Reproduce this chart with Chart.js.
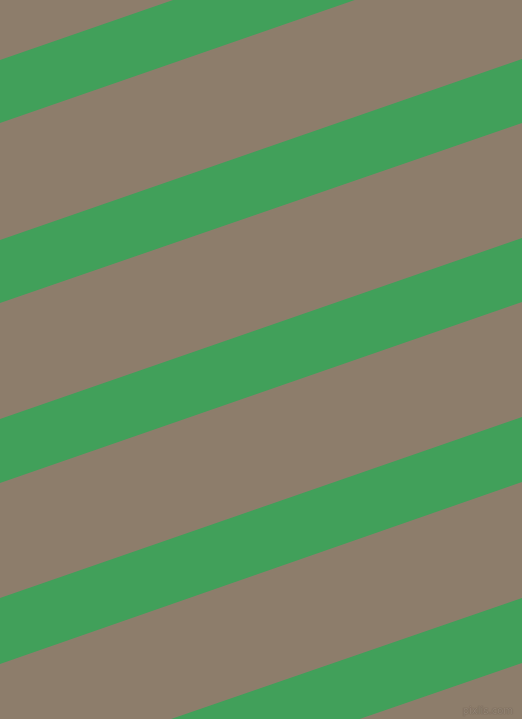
<!DOCTYPE html>
<html>
<head>
<meta charset="utf-8">
<script src="https://cdn.jsdelivr.net/npm/chart.js@4.4.1/dist/chart.umd.min.js"></script>
<style>
	html, body { margin: 0; padding: 0; background: #8d7d6b; overflow: hidden; }
	#wrap { position: relative; width: 522px; height: 719px; }
	#myChart { display: block; background: #8d7d6b; }
	#mark {
		position: absolute; right: 9px; bottom: 3px;
		font: 10px "DejaVu Sans", sans-serif;
		color: #958676;
		text-shadow: 0 0 1px #6f6152, 0 0 1px #6f6152;
	}
</style>
</head>
<body>
<div id="wrap">
	<canvas id="myChart" width="522" height="719"></canvas>
	<span id="mark">pixlis.com</span>
</div>
<script>
// x positions of the two ends of every stripe edge
var xEnds = [0, 522];

// stripe edges, y read at the left end and at the right end
var stripeTopLeft = [60, 240, 419, 598, 778];
var stripeTopRight = [-121, 59, 238, 417, 598];
var stripeBottomLeft = [123, 303, 483, 664, 843];
var stripeBottomRight = [-58, 123, 302, 482, 663];

var stripeColor = "#41a05a";

var datasets = [];
for (var i = 0; i < stripeTopLeft.length; i++) {
	// top edge, filled down to the bottom edge that follows it
	datasets.push({
		data: [
			{ x: xEnds[0], y: stripeTopLeft[i] },
			{ x: xEnds[1], y: stripeTopRight[i] }
		],
		borderWidth: 0,
		pointRadius: 0,
		backgroundColor: stripeColor,
		fill: "+1"
	});
	datasets.push({
		data: [
			{ x: xEnds[0], y: stripeBottomLeft[i] },
			{ x: xEnds[1], y: stripeBottomRight[i] }
		],
		borderWidth: 0,
		pointRadius: 0,
		fill: false
	});
}

new Chart("myChart", {
	type: "line",
	data: { datasets: datasets },
	options: {
		responsive: false,
		animation: false,
		devicePixelRatio: 1,
		layout: { padding: 0 },
		plugins: {
			legend: { display: false },
			tooltip: { enabled: false }
		},
		scales: {
			x: { type: "linear", min: 0, max: 522, display: false },
			y: { type: "linear", min: 0, max: 719, reverse: true, display: false }
		}
	}
});
</script>
</body>
</html>
